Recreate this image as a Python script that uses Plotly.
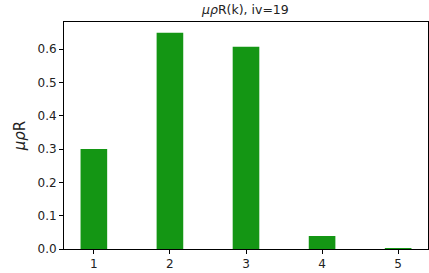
import plotly.graph_objects as go

categories = [1, 2, 3, 4, 5]
values = [0.300, 0.649, 0.607, 0.039, 0.001]
tick_labels = ["1", "2", "3", "4", "5"]

bar_w = 0.35
xmin = min(categories) - bar_w / 2
xmax = max(categories) + bar_w / 2
xm = (xmax - xmin) * 0.05
ymax = max(values) * 1.05

fig = go.Figure(go.Bar(
    x=categories, y=values, width=bar_w,
    marker=dict(color="#149614", line=dict(width=0)),
))

font = "DejaVu Sans, sans-serif"
fig.update_layout(
    width=429, height=273,
    margin=dict(l=64, r=1, t=22, b=24),
    paper_bgcolor="white", plot_bgcolor="white",
    showlegend=False,
    font=dict(family=font, color="#222", size=12),
    title=dict(text="<i>μρ</i>R(k), iv=19", x=0.572, xanchor="center",
               y=0.965, yanchor="middle", font=dict(size=12.5, family=font, color="#222")),
    xaxis=dict(range=[xmin - xm, xmax + xm], tickvals=categories, ticktext=tick_labels,
               showgrid=False, zeroline=False, showline=True, linecolor="black",
               linewidth=1, mirror=True, ticks="outside", ticklen=4, tickcolor="black",
               tickfont=dict(size=12)),
    yaxis=dict(range=[0, ymax], tickvals=[0, 0.1, 0.2, 0.3, 0.4, 0.5, 0.6],
               ticktext=["0.0", "0.1", "0.2", "0.3", "0.4", "0.5", "0.6"],
               showgrid=False, zeroline=False, showline=True, linecolor="black",
               linewidth=1, mirror=True, ticks="outside", ticklen=4, tickcolor="black",
               tickfont=dict(size=12),
               title=dict(text="<i>μρ</i>R", font=dict(size=15), standoff=8)),
)

fig.write_html("out.html", config={"displayModeBar": False},
               post_script="document.body.style.margin='0';document.body.style.overflow='hidden';")
